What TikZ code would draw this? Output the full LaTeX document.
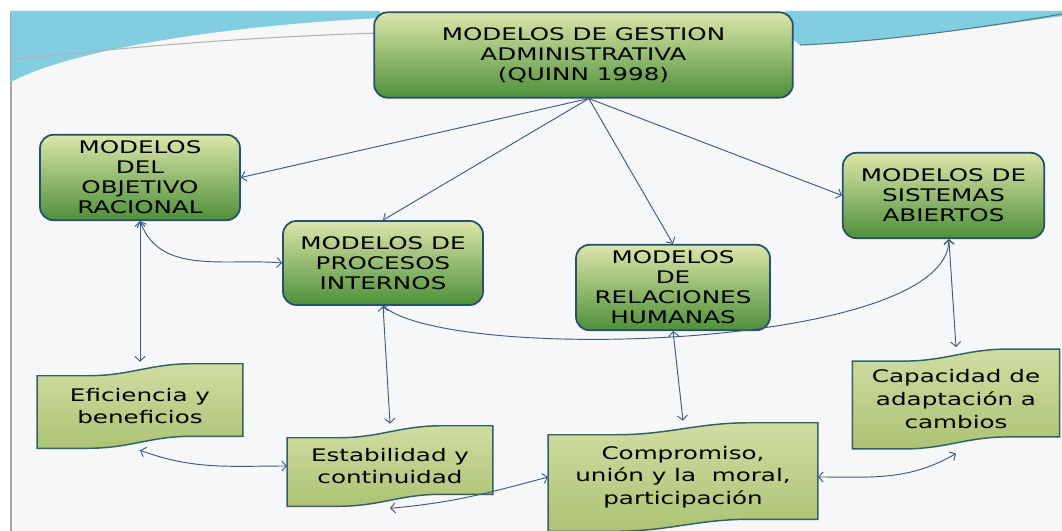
\documentclass[tikz,border=0pt]{standalone}
\usepackage{fontspec}
\usetikzlibrary{calc,backgrounds,arrows.meta}
\newfontfamily\verdfont[FakeStretch=1.42]{DejaVu Sans}
\definecolor{borde}{RGB}{38,80,106}
\definecolor{verdeclaro}{RGB}{220,230,170}
\definecolor{verdeoscuro}{RGB}{78,144,58}
\definecolor{cinta}{RGB}{172,195,116}
\definecolor{cintaclara}{RGB}{208,221,162}
\definecolor{bordecinta}{RGB}{50,98,100}
\definecolor{linea}{RGB}{62,90,124}
\definecolor{fondo}{RGB}{246,247,248}
\definecolor{celeste}{RGB}{130,205,224}

\tikzset{
  modelo/.style={draw=borde, line width=1.3pt, rounded corners=10pt, top color=verdeclaro, bottom color=verdeoscuro,
    align=center, font=\verdfont\fontsize{13}{15}\selectfont, text=black, inner sep=2pt},
  valor/.style={align=center, font=\verdfont\fontsize{13}{17}\selectfont, text=black, inner sep=0pt},
  flecha/.style={draw=linea, line width=0.7pt}
}
\newcommand{\cinta}[1]{%
  \draw[bordecinta, line width=1.1pt, top color=cintaclara, bottom color=cinta]
    let \p1=(#1.north west), \p2=(#1.south east), \n1={\x2-\x1} in
    (\x1,\y1-4.5pt) -- (\x1+0.25*\n1,\y1-4.5pt) .. controls (\x1+0.45*\n1,\y1-4.5pt) and (\x1+0.55*\n1,\y1+4.5pt) .. (\x1+0.75*\n1,\y1+4.5pt)
    -- (\x2,\y1+4.5pt) -- (\x2,\y2+4.5pt) -- (\x1+0.75*\n1,\y2+4.5pt) .. controls (\x1+0.55*\n1,\y2+4.5pt) and (\x1+0.45*\n1,\y2-4.5pt) .. (\x1+0.25*\n1,\y2-4.5pt)
    -- (\x1,\y2-4.5pt) -- cycle;}

\begin{document}
\begin{tikzpicture}[x=0.75pt, y=0.75pt, >={Straight Barb[length=3.5pt,width=7.5pt]}]
            \useasboundingbox (0,0) rectangle (1062,-531);

            \node[modelo, minimum width=314pt, minimum height=64pt] (gestion) at (583.5,-55) {MODELOS DE GESTION\\ADMINISTRATIVA\\(QUINN 1998)};
            \node[modelo, minimum width=150pt, minimum height=64pt] (objetivo) at (140,-177.5) {MODELOS\\DEL\\OBJETIVO\\RACIONAL};
            \node[modelo, minimum width=150pt, minimum height=63pt] (procesos) at (383,-263) {MODELOS DE\\PROCESOS\\INTERNOS};
            \node[modelo, minimum width=145.5pt, minimum height=64pt] (relaciones) at (673,-287.5) {MODELOS\\DE\\RELACIONES\\HUMANAS};
            \node[modelo, minimum width=151pt, minimum height=64pt] (sistemas) at (943.5,-195.5) {MODELOS DE\\SISTEMAS\\ABIERTOS};

            \node[valor, minimum width=154pt, minimum height=54pt] (eficiencia) at (140,-406) {Eficiencia y\\beneficios};
            \node[valor, minimum width=154pt, minimum height=51pt] (estabilidad) at (390,-466) {Estabilidad y\\continuidad};
            \node[valor, minimum width=202pt, minimum height=72pt] (compromiso) at (683,-477) {Compromiso,\\uni\'on y la\ \ moral,\\participaci\'on};
            \node[valor, minimum width=155pt, minimum height=65.5pt] (capacidad) at (956,-399) {Capacidad de\\adaptaci\'on a\\cambios};

            \begin{scope}[on background layer]
            \fill[white] (0,0) rectangle (1062,-531);
            \fill[fondo] (11,-11) rectangle (1062,-531);
            \draw[gray!70, line width=0.8pt] (11,-11) -- (11,-531);
            \fill[celeste] (11,-11) -- (380,-11) -- (380,-18) .. controls (220,-26) and (70,-50) .. (11,-82) -- cycle;
            \draw[gray!60, line width=0.8pt] (11,-60) .. controls (150,-44) and (280,-36) .. (380,-33);
            \fill[celeste] (785,-11) -- (1062,-11) -- (1062,-16) .. controls (980,-28) and (880,-42) .. (800,-45) .. controls (790,-40) and (786,-25) .. (785,-11) -- cycle;
            \draw[celeste!60!black, line width=0.8pt] (800,-45) .. controls (880,-42) and (980,-28) .. (1062,-14);
            \cinta{eficiencia}
            \cinta{estabilidad}
            \cinta{compromiso}
            \cinta{capacidad}
            \end{scope}

            \draw[flecha, ->] ([xshift=4pt]gestion.south) -- (objetivo.east);
            \draw[flecha, ->] ([xshift=4pt]gestion.south) -- (procesos.north);
            \draw[flecha, ->] ([xshift=4pt]gestion.south) -- (relaciones.north);
            \draw[flecha, ->] ([xshift=4pt]gestion.south) -- (sistemas.west);
            \draw[flecha, <->] (objetivo.south) to[out=-70, in=175] (procesos.west);
            \draw[flecha, <->] (objetivo.south) -- ([yshift=6pt]eficiencia.north);
            \draw[flecha, <->] (procesos.south) -- ([yshift=6pt]estabilidad.north);
            \draw[flecha, <->] (procesos.south) .. controls +(-40:90) and +(-90:110) .. ([xshift=4pt]sistemas.south);
            \draw[flecha, <->] (relaciones.south) -- ([yshift=6pt]compromiso.north);
            \draw[flecha, <->] ([xshift=4pt]sistemas.south) -- ([yshift=6pt]capacidad.north);
            \draw[flecha, <->] ([yshift=-6pt]eficiencia.south) to[out=-20, in=180] (estabilidad.west);
            \draw[flecha, <->] (compromiso.west) to[out=195, in=5] ([yshift=-6pt]estabilidad.south);
            \draw[flecha, <->] (compromiso.east) to[out=0, in=-150] ([yshift=-8pt]capacidad.south);
        \end{tikzpicture}
\end{document}
